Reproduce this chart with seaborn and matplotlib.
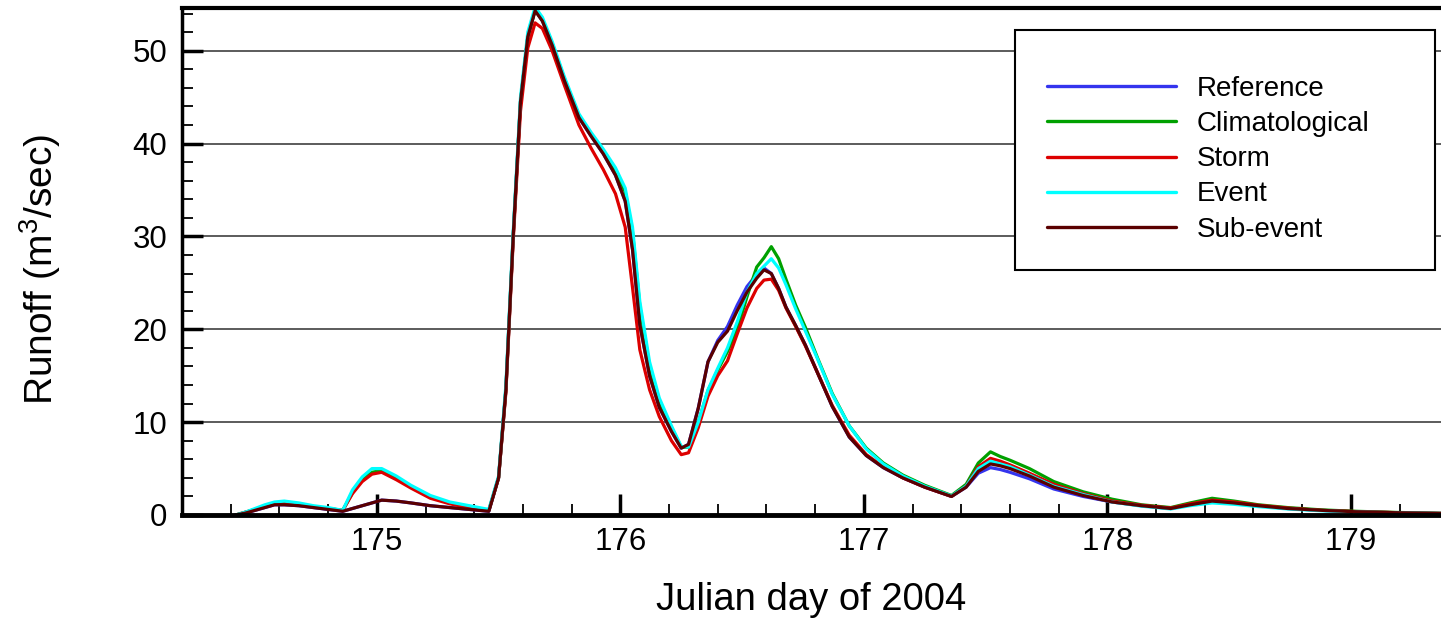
import matplotlib
matplotlib.use("Agg")
import matplotlib.pyplot as plt
import numpy as np
import pandas as pd
import seaborn as sns
from matplotlib.patches import Rectangle
from matplotlib.ticker import MultipleLocator, FormatStrFormatter

# Julian day (2004) sample times
day = [
    174.42, 174.46, 174.50, 174.54, 174.58, 174.62, 174.68, 174.74, 174.80, 174.86,
    174.90, 174.94, 174.98, 175.02, 175.08, 175.14, 175.22, 175.30, 175.38, 175.46,
    175.50, 175.53, 175.56, 175.59, 175.62, 175.65, 175.68, 175.72, 175.77, 175.83,
    175.88, 175.93, 175.98, 176.02, 176.05, 176.08, 176.12, 176.16, 176.21, 176.25,
    176.28, 176.32, 176.36, 176.40, 176.44, 176.48, 176.52, 176.56, 176.59, 176.62,
    176.65, 176.68, 176.72, 176.76, 176.81, 176.87, 176.94, 177.01, 177.08, 177.16,
    177.25, 177.36, 177.42, 177.47, 177.52, 177.56, 177.60, 177.68, 177.78, 177.90,
    178.02, 178.14, 178.26, 178.34, 178.43, 178.52, 178.62, 178.74, 178.88, 179.02,
    179.18, 179.40,
]

# Runoff (m3/sec) for each rainfall scenario
reference = [
    0.0, 0.2, 0.5, 0.8, 1.1, 1.1, 1.0, 0.8, 0.6, 0.4,
    0.7, 1.0, 1.3, 1.6, 1.5, 1.3, 1.0, 0.8, 0.6, 0.4,
    4.0, 13.5, 30.0, 44.5, 51.5, 54.4, 53.2, 50.6, 46.8, 42.8,
    40.8, 38.9, 36.6, 33.8, 28.6, 20.5, 15.0, 11.6, 9.0, 7.2,
    7.6, 11.5, 16.5, 18.8, 20.3, 22.6, 24.6, 25.9, 26.6, 26.0,
    24.4, 22.4, 20.4, 18.3, 15.3, 11.7, 8.4, 6.4, 5.1, 4.0,
    3.0, 2.0, 3.0, 4.5, 5.1, 4.9, 4.6, 3.9, 2.8, 2.0,
    1.4, 1.0, 0.7, 1.1, 1.5, 1.3, 1.0, 0.7, 0.5, 0.35,
    0.25, 0.15,
]
climatological = [
    0.0, 0.3, 0.6, 1.0, 1.3, 1.3, 1.1, 0.9, 0.7, 0.5,
    2.4, 3.8, 4.6, 4.8, 4.0, 3.0, 1.9, 1.3, 0.9, 0.5,
    4.0, 13.5, 30.0, 44.5, 51.5, 54.4, 53.3, 50.8, 47.0, 43.0,
    41.0, 39.2, 37.2, 34.8, 30.5, 22.5, 16.0, 12.3, 9.4, 7.3,
    7.3, 10.0, 13.4, 15.6, 17.6, 20.0, 23.5, 26.7, 27.7, 28.9,
    27.6, 25.4, 22.6, 20.2, 16.9, 13.1, 9.6, 7.2, 5.6, 4.3,
    3.2, 2.1, 3.3, 5.6, 6.8, 6.3, 5.9, 5.0, 3.6, 2.5,
    1.7, 1.1, 0.8, 1.3, 1.8, 1.5, 1.1, 0.8, 0.55, 0.4,
    0.28, 0.17,
]
storm = [
    0.0, 0.3, 0.6, 0.9, 1.2, 1.2, 1.1, 0.9, 0.7, 0.5,
    2.3, 3.6, 4.4, 4.6, 3.8, 2.9, 1.8, 1.2, 0.8, 0.5,
    4.0, 13.2, 29.5, 43.5, 50.3, 53.0, 52.4, 50.0, 46.3, 42.0,
    39.5, 37.2, 34.6, 31.0, 24.5, 17.8, 13.5, 10.6, 8.0, 6.5,
    6.7, 9.4, 12.8, 15.0, 16.6, 19.5, 22.3, 24.4, 25.3, 25.4,
    24.2, 22.3, 20.3, 18.2, 15.3, 11.8, 8.6, 6.5, 5.2, 4.0,
    3.0, 2.0, 3.1, 5.2, 6.1, 5.8, 5.4, 4.5, 3.3, 2.3,
    1.5, 1.05, 0.75, 1.2, 1.6, 1.4, 1.05, 0.75, 0.5, 0.37,
    0.26, 0.16,
]
event = [
    0.0, 0.3, 0.7, 1.1, 1.4, 1.5, 1.3, 1.0, 0.8, 0.5,
    2.7, 4.1, 5.0, 5.0, 4.2, 3.2, 2.1, 1.4, 1.0, 0.6,
    4.2, 14.0, 30.5, 45.0, 52.0, 54.7, 53.6, 51.0, 47.2, 43.2,
    41.2, 39.4, 37.4, 35.2, 31.0, 23.0, 16.5, 12.6, 9.6, 7.4,
    7.3, 10.0, 13.5, 15.8, 18.0, 20.8, 24.0, 26.0, 26.8, 27.6,
    26.6, 24.8, 22.2, 19.8, 16.8, 13.0, 9.6, 7.1, 5.5, 4.2,
    3.1, 2.05, 3.1, 5.0, 5.8, 5.5, 5.2, 4.3, 3.1, 2.2,
    1.4, 0.95, 0.65, 1.0, 1.3, 1.15, 0.9, 0.65, 0.45, 0.33,
    0.24, 0.15,
]
sub_event = [
    0.0, 0.2, 0.5, 0.8, 1.1, 1.1, 1.0, 0.8, 0.6, 0.4,
    0.7, 1.0, 1.3, 1.6, 1.5, 1.3, 1.0, 0.8, 0.6, 0.4,
    4.0, 13.5, 30.0, 44.5, 51.5, 54.3, 53.2, 50.6, 46.8, 42.8,
    40.8, 38.9, 36.6, 33.8, 28.6, 20.5, 15.0, 11.6, 9.0, 7.2,
    7.6, 11.5, 16.5, 18.6, 19.8, 22.0, 24.0, 25.5, 26.4, 26.0,
    24.4, 22.4, 20.4, 18.3, 15.3, 11.7, 8.4, 6.4, 5.1, 4.0,
    3.0, 2.0, 3.0, 4.7, 5.5, 5.3, 5.0, 4.2, 3.0, 2.1,
    1.4, 1.0, 0.7, 1.1, 1.5, 1.3, 1.0, 0.7, 0.5, 0.35,
    0.25, 0.15,
]

scenarios = ["Reference", "Climatological", "Storm", "Event", "Sub-event"]
colors = ["#3434ee", "#00a000", "#dd0000", "#00ffff", "#5a0000"]

wide = pd.DataFrame({
    "day": day,
    "Reference": reference,
    "Climatological": climatological,
    "Storm": storm,
    "Event": event,
    "Sub-event": sub_event,
})
df = wide.melt(id_vars="day", var_name="scenario", value_name="runoff")

sns.set_theme(style="white")
plt.rcParams["font.family"] = ["Liberation Sans", "DejaVu Sans"]
plt.rcParams["text.color"] = "black"
plt.rcParams["axes.labelcolor"] = "black"
plt.rcParams["xtick.color"] = "black"
plt.rcParams["ytick.color"] = "black"
plt.rcParams["mathtext.fontset"] = "custom"
plt.rcParams["mathtext.rm"] = "Liberation Sans"
plt.rcParams["mathtext.it"] = "Liberation Sans:italic"

fig = plt.figure(figsize=(14.41, 6.21), dpi=100)
ax = fig.add_axes([0.1263, 0.1707, 0.8737, 0.8164])

sns.lineplot(
    data=df, x="day", y="runoff", hue="scenario", hue_order=scenarios,
    palette=colors, linewidth=2.3, estimator=None, sort=False, ax=ax,
)

ax.set_xlim(174.2, 179.37)
ax.set_ylim(0, 54.6)

ax.xaxis.set_major_locator(MultipleLocator(1))
ax.xaxis.set_minor_locator(MultipleLocator(0.2))
ax.yaxis.set_major_locator(MultipleLocator(10))
ax.yaxis.set_minor_locator(MultipleLocator(2))
ax.xaxis.set_major_formatter(FormatStrFormatter("%d"))

ax.tick_params(axis="both", which="major", direction="in", length=15, width=2.5,
               labelsize=22.5, colors="black", bottom=True, left=True, top=False, right=False)
ax.tick_params(axis="both", which="minor", direction="in", length=8, width=1.3,
               bottom=True, left=True, top=False, right=False)
ax.tick_params(axis="x", which="major", pad=9)
ax.tick_params(axis="y", which="major", pad=10.5)

ax.yaxis.grid(True, color="#404040", linewidth=1.2)
ax.xaxis.grid(False)
ax.set_axisbelow(True)

for side, lw in (("top", 3.0), ("bottom", 3.5), ("left", 2.5)):
    ax.spines[side].set_color("black")
    ax.spines[side].set_linewidth(lw)
ax.spines["right"].set_visible(False)

ax.set_xlabel("Julian day of 2004", fontsize=27.5, va="center", color="black")
ax.set_ylabel("Runoff (m$^3$/sec)", fontsize=28, va="center", color="black")
ax.xaxis.set_label_coords(0.5, -0.168)
ax.yaxis.set_label_coords(-0.113, 0.485)

# Legend frame and entries
frame = Rectangle((0.6616, 0.4832), 0.3336, 0.4734, transform=ax.transAxes,
                  facecolor="white", edgecolor="black", linewidth=1.5,
                  zorder=4, clip_on=False)
ax.add_patch(frame)
handles, labels = ax.get_legend_handles_labels()
for h in handles:
    h.set_linewidth(2.4)
leg = ax.legend(handles, labels, loc="upper left", bbox_to_anchor=(0.687, 0.866),
                frameon=False, fontsize=20, handlelength=4.64, handletextpad=0.75,
                labelspacing=0.33, borderpad=0, borderaxespad=0)
leg.set_zorder(5)
for t in leg.get_texts():
    t.set_color("black")

fig.savefig("out.png", dpi=100)
